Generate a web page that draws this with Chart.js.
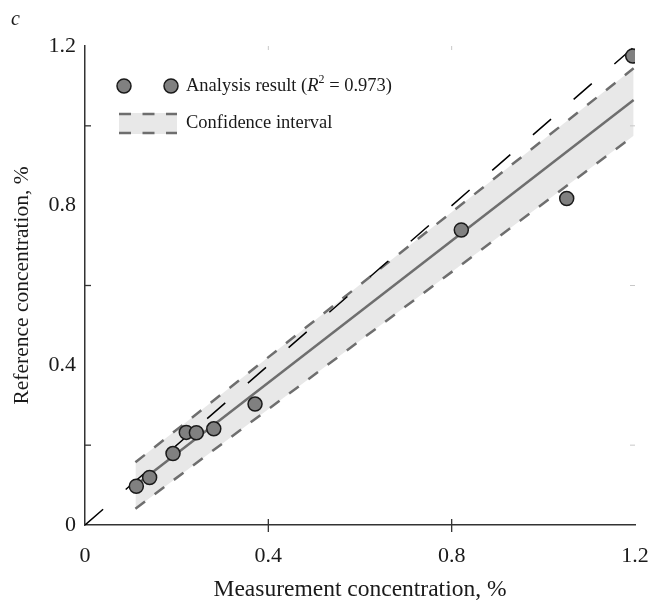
<!DOCTYPE html>
<html>
<head>
<meta charset="utf-8">
<script src="https://cdn.jsdelivr.net/npm/chart.js@4.4.1/dist/chart.umd.min.js"></script>
<style>
  html, body { margin: 0; padding: 0; background: #fff; }
  #wrap { position: relative; width: 650px; height: 604px; }
</style>
</head>
<body>
<div id="wrap"><canvas id="cCalib"></canvas></div>
<script>
// ===== Calibration plot (panel c) =====

// measured vs reference, %
const measX = [0.112, 0.141, 0.192, 0.221, 0.243, 0.281, 0.371, 0.821, 1.051, 1.195];
const refY  = [0.097, 0.119, 0.179, 0.232, 0.231, 0.241, 0.303, 0.739, 0.818, 1.175];

// regression line and confidence band ends
const fitX   = [0.11, 1.197];
const fitY   = [0.099, 1.065];
const upperY = [0.157, 1.144];
const lowerY = [0.041, 0.975];

// identity line y = x
const idX = [0, 1.2];
const idY = [0, 1.2];

const axisTicks = [0, 0.4, 0.8, 1.2];
const minorY = [0.2, 0.6, 1.0];
const minorX = [0.4, 0.8];
const R2 = '0.973';

const GREY = '#6e6e6e';
const BAND = '#e8e8e8';
const SERIF = '"Liberation Serif", "Times New Roman", serif';

const pts = (xs, ys) => xs.map((x, i) => ({ x, y: ys[i] }));

// ticks + legend + panel letter
const decor = {
    id: 'decor',
    afterDraw(chart) {
        const { ctx, chartArea: a, scales: { x, y } } = chart;
        ctx.save();
        // axis tick marks
        ctx.strokeStyle = '#333';
        ctx.lineWidth = 1.3;
        minorX.forEach(v => {
            const px = x.getPixelForValue(v);
            ctx.beginPath(); ctx.moveTo(px, a.bottom - 6); ctx.lineTo(px, a.bottom + 7); ctx.stroke();
        });
        minorY.forEach(v => {
            const py = y.getPixelForValue(v);
            ctx.beginPath(); ctx.moveTo(a.left, py); ctx.lineTo(a.left + 6, py); ctx.stroke();
        });
        // faint mirrored ticks
        ctx.strokeStyle = '#c8c8c8';
        ctx.lineWidth = 1;
        minorY.forEach(v => {
            const py = y.getPixelForValue(v);
            ctx.beginPath(); ctx.moveTo(a.right - 5, py); ctx.lineTo(a.right, py); ctx.stroke();
        });
        minorX.forEach(v => {
            const px = x.getPixelForValue(v);
            ctx.beginPath(); ctx.moveTo(px, a.top); ctx.lineTo(px, a.top + 4); ctx.stroke();
        });

        // legend
        const lx = a.left, ty = a.top;
        ctx.fillStyle = '#808080';
        ctx.strokeStyle = '#1a1a1a';
        ctx.lineWidth = 1.5;
        [39, 86].forEach(dx => {
            ctx.beginPath(); ctx.arc(lx + dx, ty + 40, 7, 0, Math.PI * 2); ctx.fill(); ctx.stroke();
        });
        ctx.fillStyle = BAND;
        ctx.fillRect(lx + 34, ty + 67, 58, 21);
        ctx.strokeStyle = GREY;
        ctx.lineWidth = 2.5;
        ctx.setLineDash([12, 11.5]);
        [ty + 68, ty + 87].forEach(yy => {
            ctx.beginPath(); ctx.moveTo(lx + 34, yy); ctx.lineTo(lx + 92, yy); ctx.stroke();
        });
        ctx.setLineDash([]);

        ctx.fillStyle = '#1a1a1a';
        ctx.textBaseline = 'middle';
        ctx.textAlign = 'left';
        let tx = lx + 101;
        const parts = [
            ['Analysis result (', '18.5px', 0],
            ['R', 'italic 18.5px', 0],
            ['2', '12px', -6],
            [' = ' + R2 + ')', '18.5px', 0]
        ];
        parts.forEach(([s, f, dy]) => {
            ctx.font = f + ' ' + SERIF;
            ctx.fillText(s, tx, ty + 40 + dy);
            tx += ctx.measureText(s).width;
        });
        ctx.font = '18.5px ' + SERIF;
        ctx.fillText('Confidence interval', lx + 101, ty + 77);

        // panel letter
        ctx.font = 'italic 20px ' + SERIF;
        ctx.textBaseline = 'alphabetic';
        ctx.fillText('c', 11, 25);
        ctx.restore();
    }
};

const tickFmt = v => axisTicks.includes(+v.toFixed(2)) ? (v === 0 ? '0' : v.toFixed(1)) : '';

new Chart(document.getElementById('cCalib').getContext('2d'), {
    type: 'scatter',
    data: {
        datasets: [
            { label: 'Analysis result', data: pts(measX, refY), backgroundColor: '#808080', borderColor: '#1a1a1a', borderWidth: 1.5, pointRadius: 7, pointHoverRadius: 7, clip: 0 },
            { label: 'y = x', data: pts(idX, idY), showLine: true, borderColor: '#000', borderWidth: 1.5, borderDash: [24, 30], pointRadius: 0, fill: false },
            { label: 'Fit', data: pts(fitX, fitY), showLine: true, borderColor: GREY, borderWidth: 2.5, pointRadius: 0, fill: false },
            { label: 'Upper', data: pts(fitX, upperY), showLine: true, borderColor: GREY, borderWidth: 2.5, borderDash: [12, 12], pointRadius: 0, fill: false },
            { label: 'Lower', data: pts(fitX, lowerY), showLine: true, borderColor: GREY, borderWidth: 2.5, borderDash: [12, 12], pointRadius: 0, fill: 3, backgroundColor: BAND }
        ]
    },
    options: {
        responsive: true, maintainAspectRatio: false, animation: false,
        layout: { padding: { top: 46, right: 15, left: 0, bottom: 0 } },
        scales: {
            x: {
                min: 0, max: 1.2,
                afterFit: s => { s.height = 79; s.paddingLeft = 0; s.paddingRight = 0; },
                ticks: { stepSize: 0.4, padding: 18, color: '#1a1a1a', font: { family: SERIF, size: 22 }, callback: tickFmt, maxRotation: 0 },
                grid: { display: false, drawTicks: false },
                border: { display: true, color: '#333', width: 1.5 },
                title: { display: true, text: 'Measurement concentration, %', color: '#1a1a1a', font: { family: SERIF, size: 23.5 }, padding: { top: 0, bottom: 0 } }
            },
            y: {
                min: 0, max: 1.2,
                afterFit: s => { s.width = 85; s.paddingTop = 0; s.paddingBottom = 0; },
                ticks: { stepSize: 0.4, padding: 9, color: '#1a1a1a', font: { family: SERIF, size: 22 }, callback: tickFmt },
                grid: { display: false, drawTicks: false },
                border: { display: true, color: '#333', width: 1.5 },
                title: { display: true, text: 'Reference concentration, %', color: '#1a1a1a', font: { family: SERIF, size: 21.5 }, padding: { top: 9, bottom: 0 } }
            }
        },
        plugins: { legend: { display: false }, tooltip: { enabled: false } }
    },
    plugins: [decor]
});
</script>
</body>
</html>
